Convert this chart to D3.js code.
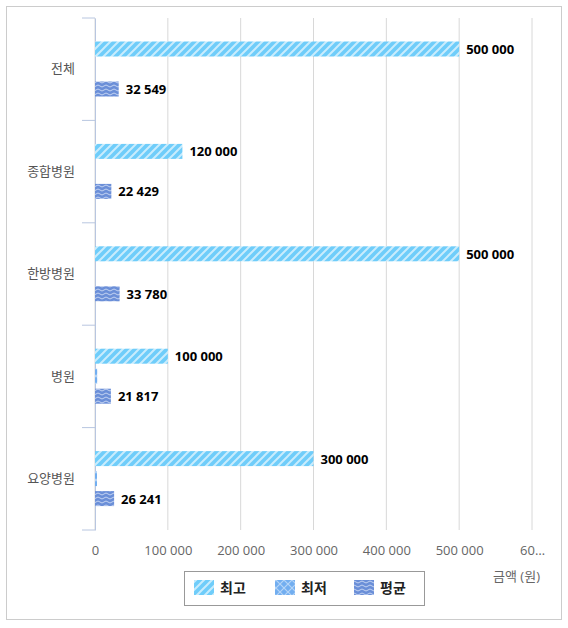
<!DOCTYPE html><html><head><meta charset="utf-8"><script src="https://cdn.jsdelivr.net/npm/d3@7"></script>
<style>body{margin:0;background:#fff}text{font-family:"Open Sans","Noto Sans CJK KR",sans-serif}</style></head><body><svg id="c" width="568" height="628"></svg><script>
const categories=["전체","종합병원","한방병원","병원","요양병원"];
const seriesNames=["최고","최저","평균"];
const maxVals=[500000,120000,500000,100000,300000];
const minVals=[0,0,0,3000,2000];
const avgVals=[32549,22429,33780,21817,26241];
const xTicks=[0,100000,200000,300000,400000,500000,600000];
const svg=d3.select("#c");
const defs=svg.append("defs");
let p=defs.append("pattern").attr("id","p0").attr("patternUnits","userSpaceOnUse").attr("width",8).attr("height",8);
p.append("rect").attr("width",8).attr("height",8).attr("fill","#6fcdfa");
p.append("path").attr("d","M-2,10 L10,-2 M-2,2 L2,-2 M6,10 L10,6").attr("stroke","#c8ecfd").attr("stroke-width",2);
p=defs.append("pattern").attr("id","p1").attr("patternUnits","userSpaceOnUse").attr("width",8).attr("height",8);
p.append("rect").attr("width",8).attr("height",8).attr("fill","#72aef0");
p.append("path").attr("d","M0,0L8,8M8,0L0,8").attr("stroke","#b5d5f8").attr("stroke-width",1.2);
p=defs.append("pattern").attr("id","p2").attr("patternUnits","userSpaceOnUse").attr("width",8).attr("height",8);
p.append("rect").attr("width",8).attr("height",8).attr("fill","#6b8fd8");
p.append("path").attr("d","M0,2 Q2,0 4,2 T8,2 M0,6 Q2,4 4,6 T8,6").attr("stroke","#c4d3f2").attr("stroke-width",1).attr("fill","none");
const fills=["url(#p0)","url(#p1)","url(#p2)"];
svg.append("rect").attr("x",6.5).attr("y",6.5).attr("width",555).attr("height",613).attr("fill","none").attr("stroke","#ccc");
const x=d3.scaleLinear().domain([0,600000]).range([95,532]);
const y=d3.scaleBand().domain(categories).range([18,530]);
const g=svg.append("g");
g.selectAll("line.grid").data(xTicks).join("line").attr("x1",d=>x(d)).attr("x2",d=>x(d)).attr("y1",18).attr("y2",530).attr("stroke","#d8d8d8");
const xa=svg.append("g").attr("transform","translate(0,530)").call(d3.axisBottom(x).tickValues(xTicks).tickSize(0).tickPadding(16).tickFormat(d=>d===600000?"60…":d3.format(",")(d).replace(/,/g," ")));
xa.select(".domain").remove();
xa.selectAll("text").attr("fill","#666").attr("font-size",13);
const ya=svg.append("g").attr("transform","translate(95,0)").call(d3.axisLeft(y).tickSize(0).tickPadding(20));
ya.select(".domain").attr("stroke","#b8c6e0");
ya.selectAll("text").attr("fill","#555").attr("font-size",13).attr("font-family","Noto Sans CJK KR");
svg.selectAll("line.yt").data(d3.range(6)).join("line").attr("x1",82).attr("x2",95).attr("y1",i=>18+i*y.step()).attr("y2",i=>18+i*y.step()).attr("stroke","#b8c6e0");
const all=[maxVals,minVals,avgVals];
const off=[31,51,71];
all.forEach((vals,s)=>{
 categories.forEach((c,i)=>{
  const v=vals[i]; const yc=y(c)+off[s];
  if(v>0) svg.append("rect").attr("x",x(0)).attr("y",yc-7.5).attr("width",Math.max(2,x(v)-x(0))).attr("height",15).attr("fill",fills[s]);
  if(s!==1) svg.append("text").attr("x",x(v)+7).attr("y",yc+5).attr("font-size",13).attr("font-weight","bold").attr("fill","#000").text(d3.format(",")(v).replace(/,/g," "));
 });
});
svg.append("text").attr("x",540).attr("y",581).attr("text-anchor","end").attr("font-size",13).attr("fill","#666").attr("font-family","Noto Sans CJK KR").text("금액 (원)");
const lg=svg.append("g");
lg.append("rect").attr("x",184.5).attr("y",571.5).attr("width",240).attr("height",34).attr("fill","#fff").attr("stroke","#999");
const lx=[194,275,354];
seriesNames.forEach((n,i)=>{
 lg.append("rect").attr("x",lx[i]).attr("y",580).attr("width",20).attr("height",15).attr("fill",fills[i]);
 lg.append("text").attr("x",lx[i]+26).attr("y",593).attr("font-size",14).attr("font-weight","bold").attr("fill","#222").attr("font-family","Noto Sans CJK KR").text(n);
});
</script></body></html>
